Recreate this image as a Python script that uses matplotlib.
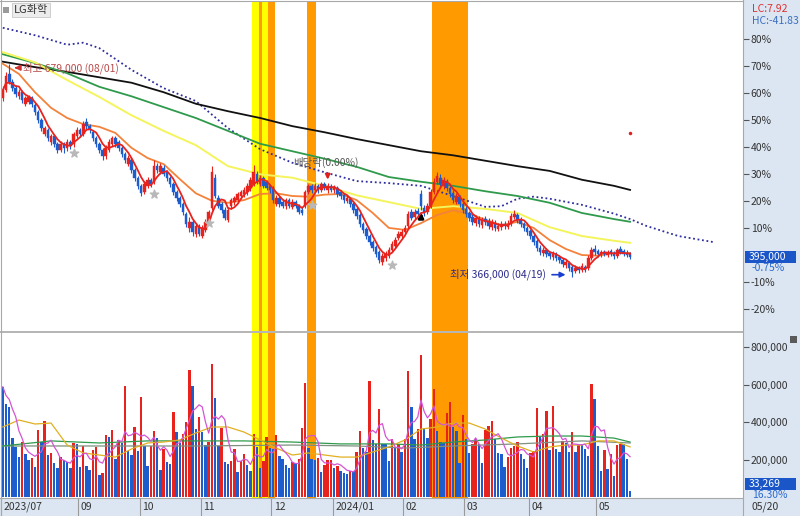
import matplotlib
matplotlib.use("Agg")
import matplotlib.pyplot as plt
import numpy as np
import pandas as pd
from matplotlib.lines import Line2D
from matplotlib.patches import Rectangle
from matplotlib.transforms import blended_transform_factory as blend

plt.rcParams["font.family"] = ["Noto Sans CJK KR", "DejaVu Sans"]

# KRX closed days inside the window
HOLIDAYS = ["2023-08-15", "2023-09-28", "2023-09-29", "2023-10-02", "2023-10-03",
            "2023-10-09", "2023-12-25", "2023-12-29", "2024-01-01", "2024-02-09",
            "2024-02-12", "2024-03-01", "2024-04-10", "2024-05-01", "2024-05-06",
            "2024-05-15"]

# daily candles, thousand won
opens = [629, 641, 665, 653, 644, 632, 638, 621, 624, 629,
         619, 609, 597, 576, 582, 565, 573, 562, 553, 562,
         556, 565, 562, 573, 582, 576, 594, 588, 579, 570,
         562, 553, 544, 553, 562, 570, 565, 556, 547, 532,
         538, 523, 511, 500, 491, 500, 509, 506, 529, 520,
         526, 520, 511, 503, 491, 482, 473, 458, 438, 447,
         429, 441, 426, 435, 447, 467, 511, 482, 473, 464,
         450, 470, 476, 479, 485, 488, 491, 497, 503, 517,
         503, 511, 506, 500, 497, 473, 482, 476, 470, 479,
         469, 476, 470, 464, 470, 491, 500, 494, 500, 494,
         503, 494, 500, 494, 497, 491, 486, 478, 481, 473,
         466, 457, 444, 436, 426, 417, 410, 402, 388, 394,
         397, 405, 411, 423, 426, 432, 441, 461, 454, 463,
         488, 467, 461, 470, 491, 506, 511, 500, 507, 497,
         489, 476, 484, 473, 466, 460, 454, 445, 451, 442,
         451, 448, 439, 445, 436, 439, 444, 439, 444, 454,
         457, 450, 444, 438, 433, 426, 419, 408, 401, 405,
         401, 395, 398, 395, 391, 383, 386, 380, 374, 379,
         376, 380, 379, 394, 407, 404, 398, 402, 398, 404,
         401, 397, 407, 404, 401, 399]
highs = [647, 668, 679, 657, 649, 643, 641, 632, 634, 632,
         622, 612, 600, 588, 585, 576, 576, 565, 566, 565,
         569, 567, 579, 587, 585, 596, 600, 591, 582, 573,
         565, 556, 560, 569, 573, 573, 567, 559, 550, 545,
         541, 526, 514, 503, 507, 513, 511, 538, 534, 534,
         531, 523, 514, 506, 494, 485, 476, 461, 454, 450,
         445, 444, 442, 451, 464, 529, 517, 486, 476, 469,
         469, 482, 485, 491, 494, 498, 504, 513, 531, 522,
         516, 514, 509, 503, 500, 486, 485, 481, 482, 482,
         481, 479, 473, 469, 494, 503, 503, 504, 503, 506,
         506, 504, 503, 501, 500, 494, 489, 486, 484, 476,
         469, 460, 447, 439, 429, 420, 413, 405, 401, 404,
         410, 419, 425, 433, 436, 442, 463, 466, 466, 467,
         494, 472, 475, 495, 511, 520, 517, 513, 510, 500,
         494, 489, 486, 476, 470, 463, 458, 457, 456, 454,
         456, 453, 451, 450, 445, 448, 448, 450, 460, 464,
         460, 454, 447, 441, 436, 429, 422, 413, 410, 408,
         404, 404, 402, 398, 394, 392, 389, 383, 383, 382,
         386, 383, 398, 410, 413, 407, 405, 405, 405, 407,
         404, 408, 411, 407, 405, 402]
lows = [625, 638, 650, 640, 631, 628, 622, 618, 621, 616,
        604, 593, 581, 573, 566, 560, 557, 548, 550, 548,
        551, 554, 557, 570, 572, 573, 584, 578, 566, 557,
        548, 538, 540, 550, 559, 557, 551, 542, 534, 529,
        519, 507, 495, 485, 488, 497, 498, 503, 519, 517,
        514, 507, 498, 486, 478, 469, 457, 439, 432, 426,
        425, 426, 423, 432, 444, 464, 482, 467, 460, 450,
        447, 466, 472, 475, 481, 484, 486, 492, 500, 503,
        500, 497, 494, 489, 475, 470, 469, 467, 466, 467,
        466, 467, 458, 457, 467, 488, 489, 491, 489, 491,
        494, 489, 491, 489, 484, 481, 475, 475, 469, 460,
        451, 439, 430, 422, 413, 404, 395, 386, 383, 389,
        394, 402, 408, 420, 423, 429, 438, 450, 451, 455,
        464, 455, 458, 467, 488, 503, 498, 495, 492, 484,
        475, 473, 469, 460, 454, 448, 442, 441, 439, 438,
        442, 436, 435, 433, 433, 435, 436, 436, 441, 451,
        445, 439, 433, 428, 422, 413, 404, 398, 397, 395,
        392, 391, 389, 386, 380, 379, 374, 366, 371, 371,
        373, 373, 376, 391, 398, 395, 395, 397, 395, 397,
        392, 394, 400, 397, 395, 392]
closes = [641, 662, 653, 644, 635, 638, 626, 629, 631, 621,
          609, 597, 585, 585, 570, 573, 562, 553, 562, 556,
          565, 559, 576, 582, 576, 591, 588, 582, 570, 562,
          553, 544, 556, 565, 570, 562, 556, 547, 538, 541,
          523, 511, 500, 489, 503, 509, 503, 529, 523, 529,
          517, 511, 503, 491, 482, 473, 461, 444, 447, 432,
          441, 429, 438, 447, 461, 520, 485, 470, 464, 453,
          464, 479, 482, 488, 491, 494, 500, 509, 520, 506,
          511, 500, 497, 494, 479, 482, 473, 470, 479, 470,
          476, 470, 461, 460, 491, 500, 494, 500, 494, 503,
          497, 500, 494, 498, 488, 485, 479, 482, 473, 464,
          455, 444, 435, 426, 417, 408, 400, 391, 397, 400,
          405, 414, 420, 429, 432, 438, 458, 453, 461, 458,
          470, 461, 470, 491, 506, 514, 503, 509, 497, 488,
          479, 485, 473, 464, 458, 453, 447, 453, 444, 450,
          447, 441, 447, 438, 441, 444, 441, 444, 456, 458,
          450, 444, 438, 432, 426, 417, 408, 402, 405, 400,
          397, 400, 394, 391, 385, 388, 379, 373, 379, 376,
          382, 376, 394, 405, 402, 400, 402, 400, 402, 400,
          397, 405, 402, 400, 398, 395]

# daily volume, thousand shares
volume_k = [588, 495, 479, 317, 266, 213, 294, 230, 198, 207,
            161, 356, 292, 406, 227, 237, 182, 156, 213, 197,
            188, 158, 288, 282, 161, 271, 168, 145, 250, 266,
            117, 131, 330, 322, 358, 204, 305, 290, 592, 246,
            225, 374, 246, 535, 275, 166, 273, 351, 317, 147,
            257, 188, 176, 455, 346, 287, 335, 402, 677, 592,
            362, 426, 349, 278, 292, 707, 530, 273, 370, 188,
            176, 195, 257, 136, 195, 232, 170, 140, 335, 266,
            156, 193, 322, 261, 255, 331, 218, 204, 172, 154,
            186, 182, 204, 370, 606, 261, 202, 200, 207, 136,
            172, 197, 198, 158, 166, 142, 128, 124, 140, 140,
            241, 353, 264, 239, 620, 305, 282, 470, 282, 282,
            193, 310, 261, 282, 243, 310, 672, 482, 310, 363,
            757, 367, 317, 416, 576, 354, 292, 287, 447, 507,
            372, 354, 184, 440, 310, 237, 285, 309, 284, 181,
            358, 379, 408, 310, 236, 229, 160, 216, 261, 271,
            292, 230, 205, 156, 234, 246, 473, 319, 337, 459,
            253, 484, 255, 243, 298, 287, 241, 347, 243, 284,
            284, 257, 221, 603, 521, 275, 142, 252, 149, 229,
            113, 278, 282, 282, 204.1, 33.269]

# moving averages (bar index -> thousand won)
ma20_idx = list(range(0, 200, 5))
ma20 = [680, 665, 638, 615, 600, 591, 587, 578, 556, 541,
        532, 510, 489, 478, 475, 479, 488, 489, 485, 484,
        487, 488, 479, 460, 438, 435, 445, 457, 464, 459,
        450, 442, 447, 438, 420, 407, 398, 397, 401, 401]
ma_idx = [0, 10, 20, 30, 40, 50, 60, 70, 80, 90, 100,
          110, 120, 130, 140, 150, 160, 170, 180, 190, 195]
ma60 = [697, 682, 656, 631, 604, 581, 560, 529, 517, 512, 500,
        486, 476, 466, 470, 466, 460, 439, 426, 419, 416]
ma120 = [694, 681, 666, 646, 632, 616, 600, 581, 562, 551, 540,
         528, 513, 506, 500, 492, 485, 475, 460, 451, 447]
ma240 = [683, 675, 668, 660, 652, 638, 621, 610, 600, 588, 579,
         569, 560, 551, 545, 537, 529, 522, 509, 500, 494]
lead_idx = [0, 10, 20, 25, 30, 40, 50, 60, 70, 80, 90, 100, 110, 120,
            130, 140, 150, 155, 160, 165, 170, 180, 190, 195, 200, 210, 221]
lead_line = [733, 722, 708, 711, 703, 671, 644, 625, 585, 554, 534, 520, 507, 504,
             500, 485, 469, 470, 481, 484, 481, 472, 459, 451, 441, 426, 417]

# volume averages (thousand shares)
vma20_idx = list(range(0, 200, 5))
vma20 = [374, 411, 390, 395, 278, 236, 225, 214, 257, 289,
         294, 305, 342, 374, 374, 347, 305, 262, 225, 236,
         225, 214, 214, 241, 268, 305, 363, 374, 395, 395,
         363, 315, 273, 241, 268, 278, 278, 300, 300, 268]
vma60_idx = [0, 15, 30, 45, 60, 75, 90, 105, 120, 130, 140, 150, 160, 170, 180, 190, 195]
vma60 = [273, 300, 289, 300, 300, 300, 294, 284, 284, 278, 294, 305, 321, 326, 326, 315, 294]
vma120_idx = [0, 30, 60, 90, 110, 125, 140, 160, 180, 195]
vma120 = [273, 273, 273, 278, 273, 262, 273, 284, 300, 289]

# signal bands and chart markers
bands = [("2023-11-23", "2023-11-24", "#ffff00"), ("2023-11-27", "2023-11-27", "#ff9a00"),
         ("2023-11-28", "2023-11-29", "#ffff00"), ("2023-11-30", "2023-12-01", "#ff9a00"),
         ("2023-12-18", "2023-12-20", "#ff9a00"), ("2024-02-16", "2024-03-04", "#ff9a00")]
star_idx = [22, 47, 64, 96, 121]
star_price = [548, 488, 445, 472, 383]
month_marks = [("2023-07", "2023/07"), ("2023-09", "09"), ("2023-10", "10"),
               ("2023-11", "11"), ("2023-12", "12"), ("2024-01", "2024/01"),
               ("2024-02", "02"), ("2024-03", "03"), ("2024-04", "04"), ("2024-05", "05")]

dates = pd.bdate_range("2023-07-28", "2024-05-20")
dates = dates[~dates.isin(pd.to_datetime(HOLIDAYS))]

o = np.array(opens, float)
h = np.array(highs, float)
l = np.array(lows, float)
c = np.array(closes, float)
vol = np.array(volume_k, float)
x = np.arange(len(c))

UP, DOWN = "#e8231e", "#1d5ccc"
STRIP = "#dce6f2"
W, H = 800, 516


def fbox(x0, y0, x1, y1):
    return [x0 / W, 1 - y1 / H, (x1 - x0) / W, (y1 - y0) / H]


fig = plt.figure(figsize=(W / 100, H / 100), dpi=100)
fig.add_artist(Rectangle((743 / W, 0), 57 / W, 1, transform=fig.transFigure,
                         fc=STRIP, ec="none", zorder=0))
fig.add_artist(Rectangle((0, 0), 743 / W, 18 / H, transform=fig.transFigure,
                         fc=STRIP, ec="none", zorder=0))

ax = fig.add_axes(fbox(1, 2, 743, 331))
axv = fig.add_axes(fbox(1, 333, 743, 498))
for a in (ax, axv):
    for s in a.spines.values():
        s.set_visible(False)
    a.set_xlim(-0.56, 230.1)
    a.set_xticks([])
    a.yaxis.tick_right()
    a.tick_params(axis="y", direction="out", length=4, width=0.8, color="#555555",
                  pad=1.5, labelsize=7.5, labelcolor="#333333")
ax.set_ylim(286, 771)
axv.set_ylim(-3.7, 874)

# highlight bands
for start, end, col in bands:
    i0, i1 = dates.get_loc(pd.Timestamp(start)), dates.get_loc(pd.Timestamp(end))
    for a in (ax, axv):
        a.axvspan(i0 - 0.5, i1 + 0.5, color=col, lw=0, zorder=0.5)

# price panel
ax.plot(lead_idx, lead_line, color="#2e2ea0", lw=1.3, ls=(0, (1, 1.5)), zorder=2)
ax.plot(ma_idx, ma240, color="#111111", lw=1.3, zorder=2)
ax.plot(ma_idx, ma120, color="#2f9a4c", lw=1.3, zorder=2)
ax.plot(ma_idx, ma60, color="#f4f45c", lw=1.4, zorder=2)
ax.plot(ma20_idx, ma20, color="#f4823a", lw=1.3, zorder=2)

up = c >= o
cols = np.where(up, UP, DOWN)
ax.vlines(x, l, h, colors=cols, lw=0.8, zorder=3)
ax.bar(x, np.abs(c - o), bottom=np.minimum(o, c), width=0.8, color=cols,
       edgecolor=cols, lw=0.3, zorder=3)

ma5 = pd.Series(c).rolling(5, min_periods=1).mean()
ax.plot(x, ma5, color="#e8231e", lw=1.3, zorder=4)

ax.scatter(star_idx, star_price, marker="*", s=40, color="#b8b8b8", zorder=4)

# high / low / ex-dividend notes
ih, il = int(np.argmax(h)), int(np.argmin(l))
ax.annotate(f"최고 {h[ih] * 1000:,.0f} ({dates[ih]:%m/%d})", xy=(ih + 0.8, h[ih] - 5),
            xytext=(ih + 4.3, h[ih] - 5), va="center", ha="left", fontsize=7.5,
            color="#b84a4a", zorder=5,
            arrowprops=dict(arrowstyle="-|>", color="#d03030", lw=1.2, mutation_scale=8))
ax.annotate(f"최저 {l[il] * 1000:,.0f} ({dates[il]:%m/%d})", xy=(il - 1.2, l[il] + 3),
            xytext=(il - 8, l[il] + 3), va="center", ha="right", fontsize=7.5,
            color="#2b2b8c", zorder=5,
            arrowprops=dict(arrowstyle="-|>", color="#1a3fd0", lw=1.2, mutation_scale=8))
ax.text(90.2, 535, "배당락(0.00%)", fontsize=7.5, color="#555555", va="center", zorder=5)
ax.annotate("", xy=(101, 505), xytext=(101, 522),
            arrowprops=dict(arrowstyle="-|>", color="#e02020", lw=1.4, mutation_scale=7))
ax.annotate("", xy=(130, 465), xytext=(130, 448),
            arrowprops=dict(arrowstyle="-|>", color="black", lw=2.0, mutation_scale=7))
ax.plot([x[-1]], [578], "o", ms=1.5, color="#e02020")

base = c[-2]
pct_ticks = [-20, -10, 10, 20, 30, 40, 50, 60, 70, 80]
ax.set_yticks([base * (1 + p / 100) for p in pct_ticks])
ax.set_yticklabels([f"{p}%" for p in pct_ticks])

tr = blend(ax.transAxes, ax.transData)
ax.add_patch(Rectangle((1.003, c[-1] - 8.5), 0.068, 17, transform=tr, fc="#1a56c8",
                       ec="none", clip_on=False, zorder=6))
ax.text(1.008, c[-1], f"{c[-1] * 1000:,.0f}", transform=tr, color="white", fontsize=7.5,
        va="center", ha="left", clip_on=False, zorder=7)
ax.text(1.012, c[-1] - 16, f"{(c[-1] / base - 1) * 100:.2f}%", transform=tr,
        color="#2a6ad0", fontsize=7.5, va="center", ha="left", clip_on=False)

lc = (c[-1] / l.min() - 1) * 100
hc = (c[-1] / h.max() - 1) * 100
fig.text(752 / W, 1 - 9 / H, f"LC:{lc:.2f}", color="#e03030", fontsize=7.5, va="center")
fig.text(752 / W, 1 - 21 / H, f"HC:{hc:.2f}", color="#3a6fc0", fontsize=7.5, va="center")

# volume panel
vol_up = np.r_[False, vol[1:] > vol[:-1]]
axv.bar(x, vol, width=0.75, color=np.where(vol_up, UP, DOWN), lw=0, zorder=2)
vma5 = pd.Series(vol).rolling(5, min_periods=1).mean()
axv.plot(vma120_idx, vma120, color="#7f907f", lw=0.9, zorder=3)
axv.plot(vma60_idx, vma60, color="#2f9a4c", lw=0.9, zorder=3)
axv.plot(vma20_idx, vma20, color="#e0b020", lw=0.9, zorder=3)
axv.plot(x, vma5, color="#d455d4", lw=0.9, zorder=3)

vt = [200, 400, 600, 800]
axv.set_yticks(vt)
axv.set_yticklabels([f"{v * 1000:,.0f}" for v in vt])
axv.add_patch(Rectangle((1.003, 0.049), 0.068, 0.072, transform=axv.transAxes, fc="#1a56c8",
                        ec="none", clip_on=False, zorder=6))
axv.text(1.008, 0.085, f"{vol[-1] * 1000:,.0f}", transform=axv.transAxes, color="white",
         fontsize=7.5, va="center", ha="left", clip_on=False, zorder=7)
axv.text(1.012, 0.02, f"{vol[-1] / vol[-2] * 100:.2f}%", transform=axv.transAxes,
         color="#2a6ad0", fontsize=7.5, va="center", ha="left", clip_on=False)

# date strip
ym = np.array(dates.strftime("%Y-%m"))
trv = blend(axv.transData, axv.transAxes)
for key, lab in month_marks:
    pos = int(np.argmax(ym == key))
    axv.plot([pos - 0.5, pos - 0.5], [0, -0.109], color="#9a9a9a", lw=0.8,
             transform=trv, clip_on=False)
    axv.text(pos + 0.3, -0.055, lab, transform=trv, fontsize=7.5, color="#333333",
             va="center", ha="left", clip_on=False)
fig.text(752 / W, 1 - 507 / H, f"{dates[-1]:%m/%d}", fontsize=7.5, color="#333333", va="center")

# frame lines
frame = [((1, 1), (0, 516)), ((743, 743), (0, 516)), ((0, 743), (1, 1)),
         ((0, 743), (332, 332)), ((0, 743), (498, 498))]
for xs, ys in frame:
    fig.add_artist(Line2D([v / W for v in xs], [1 - v / H for v in ys], color="#a8a8a8",
                          lw=1.2 if ys[0] == 332 else 0.8, transform=fig.transFigure))

# title tag
fig.add_artist(Rectangle((3 / W, 1 - 13 / H), 6 / W, 6 / H, transform=fig.transFigure,
                         fc="#9a9a9a", ec="none"))
fig.text(14 / W, 1 - 10 / H, "LG화학", fontsize=8, color="#333333", va="center",
         bbox=dict(boxstyle="square,pad=0.15", fc="#ececec", ec="#c8c8c8", lw=0.6))
fig.add_artist(Rectangle((790 / W, 1 - 343 / H), 7 / W, 7 / H, transform=fig.transFigure,
                         fc="#5a5a5a", ec="none"))

fig.savefig("out.png", dpi=100)
